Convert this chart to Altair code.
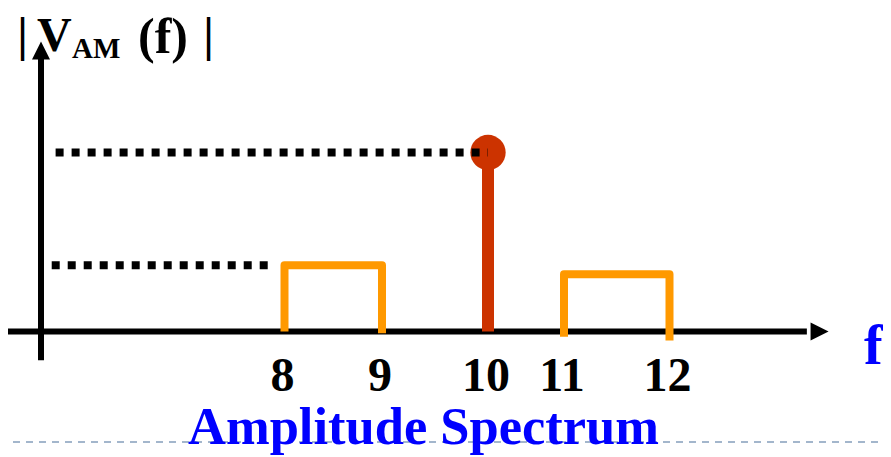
import altair as alt
import pandas as pd

# ---- data ----
freq_ticks = [8, 9, 10, 11, 12]
tick_labels = ["8", "9", "10", "11", "12"]
carrier_freq = [10]
carrier_amp = [1.0]
lsb_freq = [8, 8, 9, 9]
lsb_amp = [0.0, 0.37, 0.37, -0.01]
usb_freq = [11, 11, 12, 12]
usb_amp = [-0.03, 0.32, 0.32, -0.05]
guide_amp = [1.0, 0.37]
guide_start = [5.65, 5.61]
guide_end = [10.0, 7.83]
x_axis_freq = [5.15, 13.3]
y_axis_freq = [5.5]
y_axis_amp = [-0.16, 1.55]
arrow_up = [5.5, 1.57]
arrow_right = [13.42, 0.0]

# hand-drawn (non-uniform) frequency axis -> piecewise scale
xs = alt.Scale(domain=[5.15, 5.5, 8, 9, 10, 11, 12, 13.5],
               range=[0, 33, 276.5, 374, 480, 556, 661.5, 820],
               nice=False, zero=False)
ys = alt.Scale(domain=[0, 1], range=[323.5, 144.5], nice=False, zero=False)

def X(f="f"):
    return alt.X(f"{f}:Q", scale=xs, axis=None)

def Y(f="a"):
    return alt.Y(f"{f}:Q", scale=ys, axis=None)

SERIF = "Liberation Serif"

# bottom dashed separator
sep = alt.Chart(pd.DataFrame({"k": [0]})).mark_rule(
    color="#A3B6CC", strokeWidth=2, strokeDash=[7, 6]
).encode(x=alt.value(-8), x2=alt.value(875), y=alt.value(434))

# axes
xaxis_df = pd.DataFrame({"f": [x_axis_freq[0]], "f2": [x_axis_freq[1]], "a": [0.0]})
xaxis = alt.Chart(xaxis_df).mark_rule(color="black", strokeWidth=6).encode(
    x=X(), x2="f2:Q", y=Y())
yaxis_df = pd.DataFrame({"f": y_axis_freq, "a": [y_axis_amp[0]], "a2": [y_axis_amp[1]]})
yaxis = alt.Chart(yaxis_df).mark_rule(color="black", strokeWidth=6).encode(
    x=X(), y=Y(), y2="a2:Q")
up_df = pd.DataFrame({"f": [arrow_up[0]], "a": [arrow_up[1]]})
uparrow = alt.Chart(up_df).mark_point(
    shape="M0,-1L1,1L-1,1Z", filled=True, size=324, color="black", opacity=1, strokeWidth=0
).encode(x=X(), y=Y())
rt_df = pd.DataFrame({"f": [arrow_right[0]], "a": [arrow_right[1]]})
rtarrow = alt.Chart(rt_df).mark_point(
    shape="M1,0L-1,-1L-1,1Z", filled=True, size=324, color="black", opacity=1, strokeWidth=0
).encode(x=X(), y=Y())

# sidebands
sb_df = pd.DataFrame({
    "f": lsb_freq + usb_freq,
    "a": lsb_amp + usb_amp,
    "band": ["lsb"] * 4 + ["usb"] * 4,
    "i": list(range(4)) * 2,
})
sidebands = alt.Chart(sb_df).mark_line(
    color="#FF9900", strokeWidth=8, strokeJoin="round", strokeCap="butt"
).encode(x=X(), y=Y(), detail="band:N", order="i:Q")

# carrier
car_df = pd.DataFrame({"f": carrier_freq, "a": carrier_amp, "z": [0.0]})
stem = alt.Chart(car_df).mark_rule(color="#CC3300", strokeWidth=12).encode(
    x=X(), y=Y(), y2="z:Q")
dot = alt.Chart(car_df).mark_circle(size=1250, color="#CC3300", opacity=1).encode(
    x=X(), y=Y())

# dotted guides
g_df = pd.DataFrame({"f": guide_start, "f2": guide_end, "a": guide_amp})
guides = alt.Chart(g_df).mark_rule(
    color="black", strokeWidth=8, strokeDash=[8, 8], strokeCap="butt"
).encode(x=X(), x2="f2:Q", y=Y())

# tick labels
t_df = pd.DataFrame({"f": freq_ticks, "label": tick_labels})
ticks = alt.Chart(t_df).mark_text(
    font=SERIF, fontWeight="bold", fontSize=48, baseline="alphabetic",
    align="center", dx=-2, color="black"
).encode(x=X(), y=alt.value(383), text="label:N")

one = pd.DataFrame({"k": [0]})

def label(txt, x, y, size, color="black", align="left"):
    return alt.Chart(one).mark_text(
        text=txt, font=SERIF, fontWeight="bold", fontSize=size,
        baseline="alphabetic", align=align, color=color
    ).encode(x=alt.value(x), y=alt.value(y))

title_parts = [
    label("|", 14.5, 43, 48, align="center"),
    label("V", 29, 43, 48),
    label("AM", 64, 50, 29),
    label("(f)", 130, 45, 50),
    label("|", 200.5, 43, 48, align="center"),
]
f_label = label("f", 856, 356, 56, color="#0000FF")
caption = label("Amplitude Spectrum", 415.5, 436, 52.5, color="#0000FF", align="center")

chart = alt.layer(
    sep, xaxis, yaxis, uparrow, rtarrow, sidebands, stem, dot, guides, ticks,
    *title_parts, f_label, caption
).properties(
    width=875, height=449, autosize="none", padding=0
).configure_view(stroke=None)

chart.save("out.html", embed_options={"renderer": "svg", "actions": False})
